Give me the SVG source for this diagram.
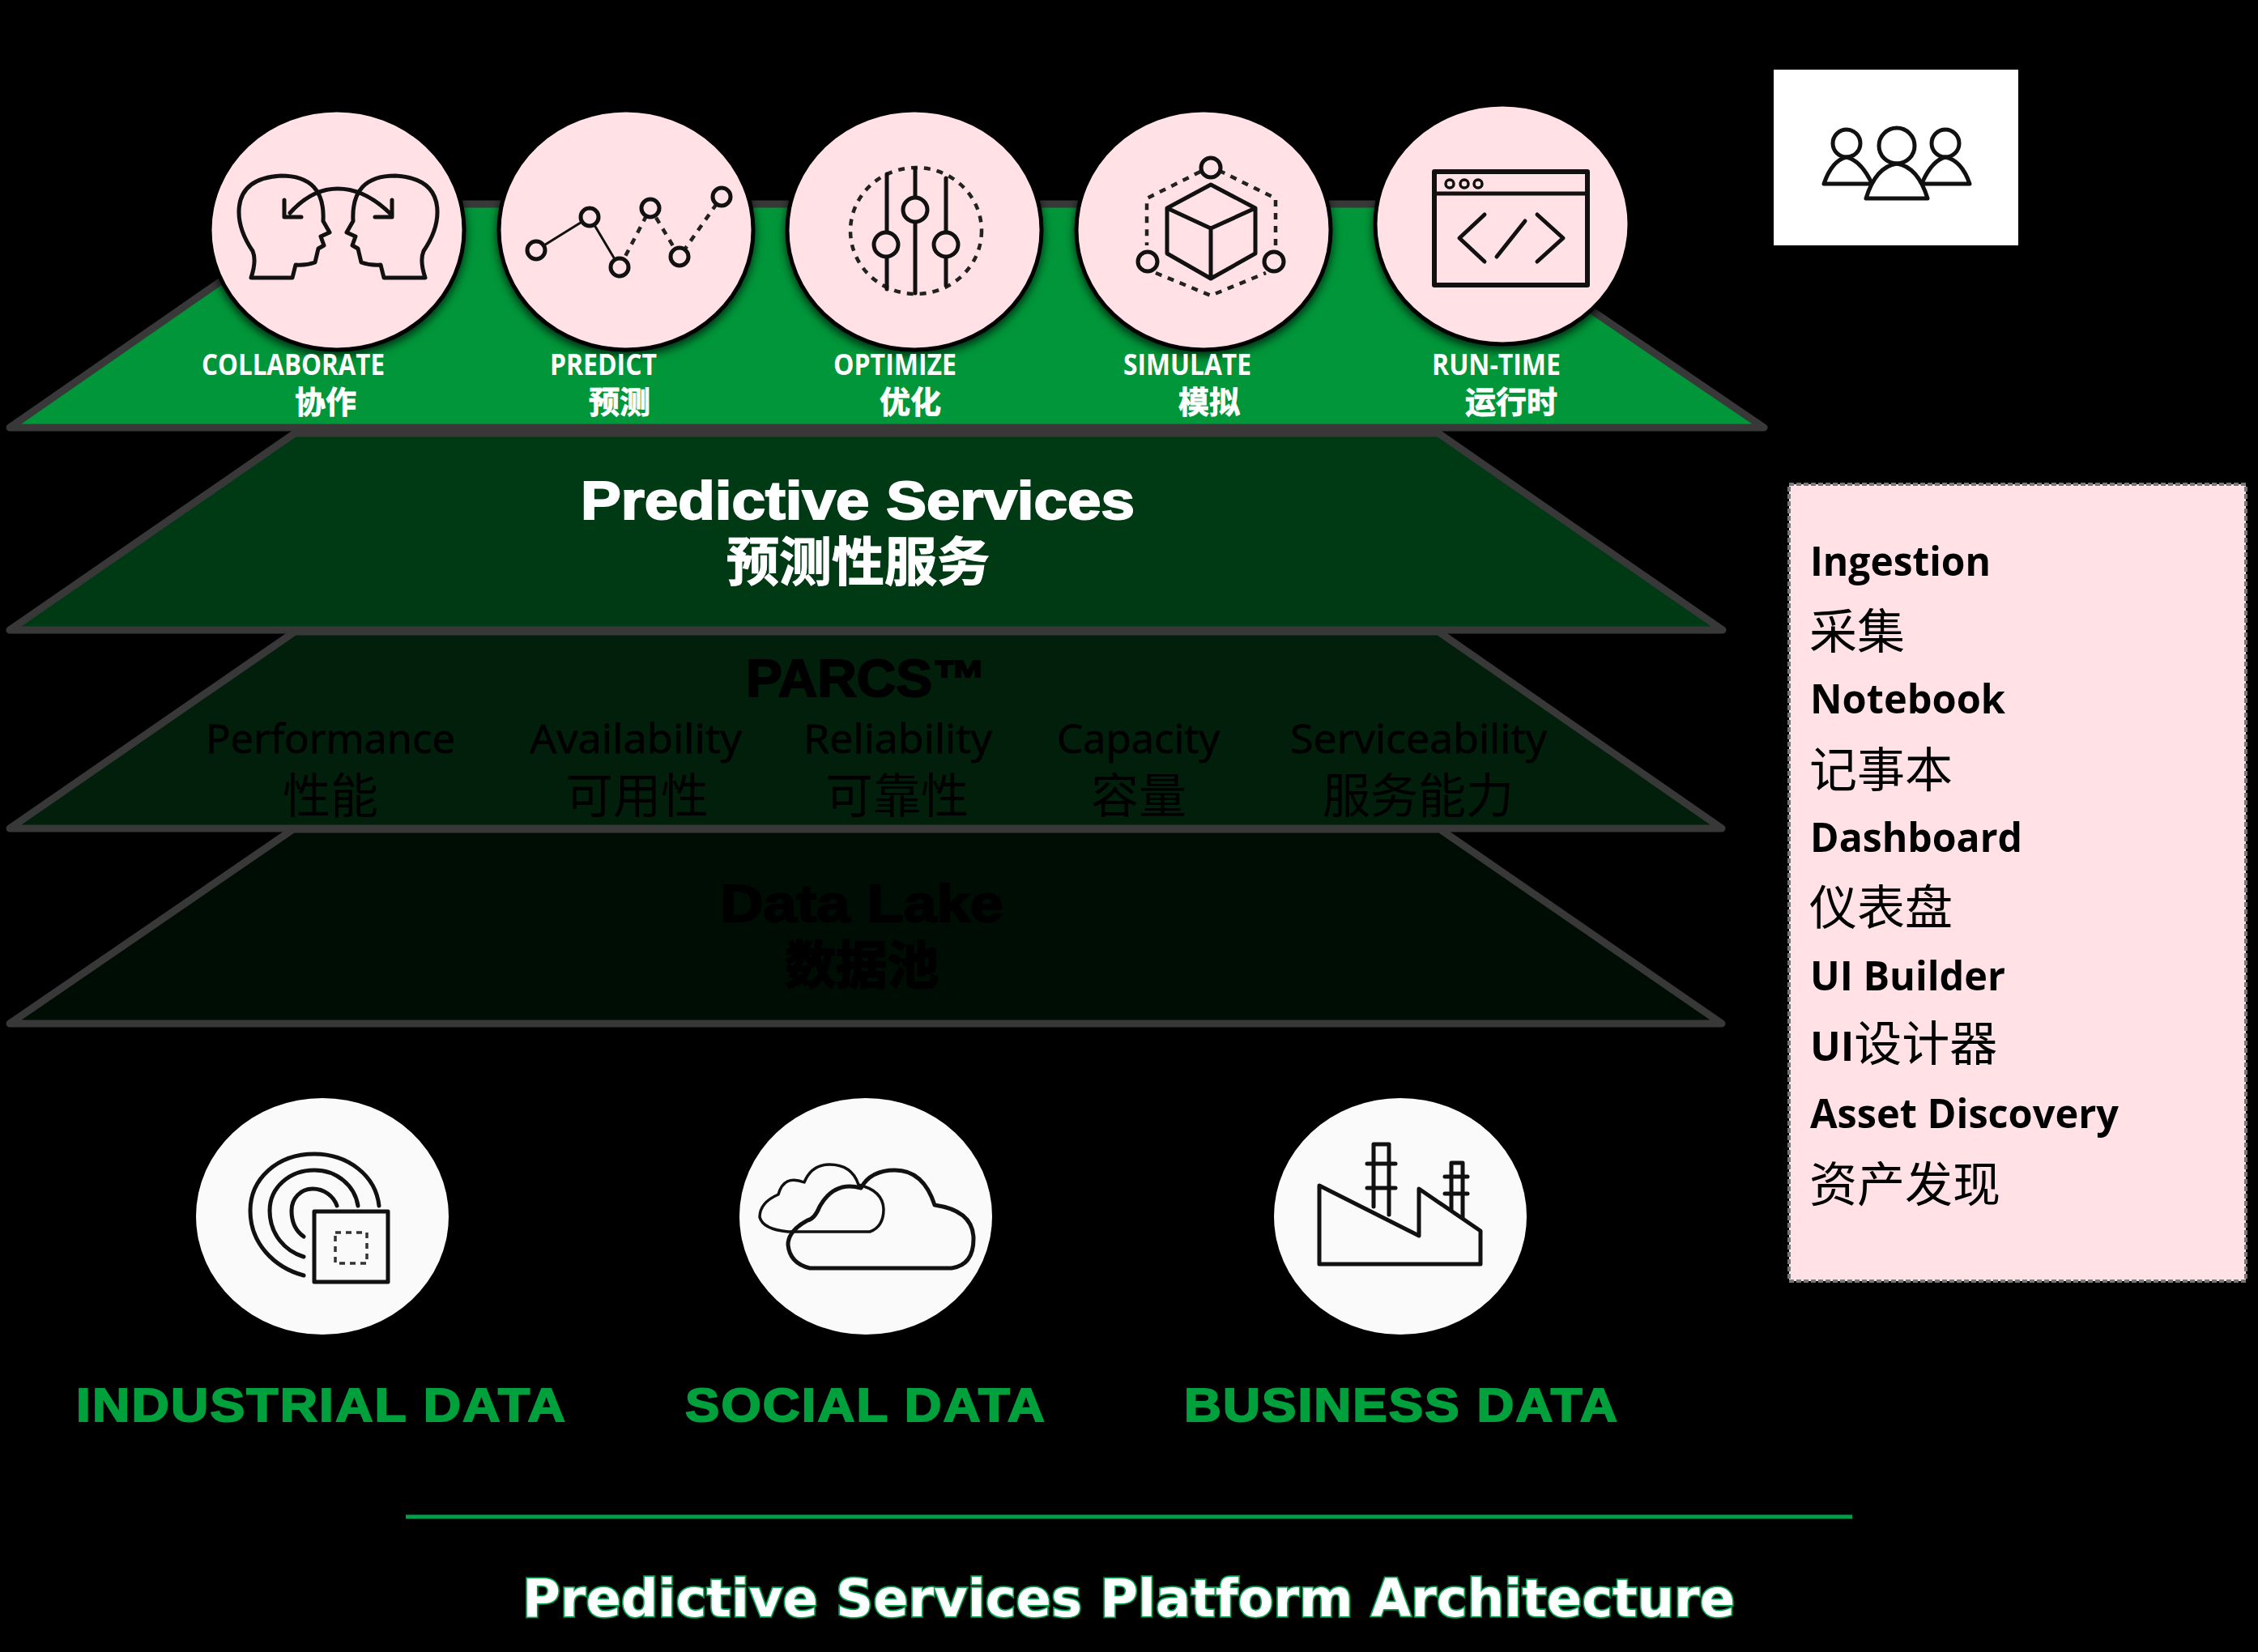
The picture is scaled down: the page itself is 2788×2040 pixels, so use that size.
<svg xmlns="http://www.w3.org/2000/svg" width="2788" height="2040" viewBox="0 0 2788 2040">
<style>
text{font-family:"Liberation Sans","Noto Sans CJK SC",sans-serif;font-weight:700}
.cjk{font-family:"Noto Sans CJK SC",sans-serif}
.trap{stroke:#383838;stroke-width:9;stroke-linejoin:round}
.badge{fill:#ffe1e6;stroke:#000;stroke-width:5;filter:url(#sh)}
.data{fill:#fafafa}
.ic{fill:none;stroke:#111;stroke-width:5;stroke-linejoin:round;stroke-linecap:round}
.ict{fill:none;stroke:#111;stroke-width:3.5;stroke-linejoin:round}
.dash{fill:none;stroke:#222;stroke-width:4.5;stroke-dasharray:8 8}
.lab{fill:#fff;font-size:35px;font-family:"Open Sans","Liberation Sans",sans-serif;font-weight:700}
.lc{fill:#fff;stroke:#fff;stroke-width:.8;font-size:38px;font-family:"Noto Sans CJK SC",sans-serif;font-weight:700}
.dk{fill:#000;stroke:#000;stroke-width:2}
.p{font-size:50px;font-family:"Open Sans","Liberation Sans",sans-serif;font-weight:400;fill:#000;stroke:#000;stroke-width:.8}
.pc{font-size:59px;font-family:"Noto Sans CJK SC",sans-serif;font-weight:400;fill:#000}
.gl{fill:#00a03c;stroke:#00a03c;stroke-width:2;font-size:58px;letter-spacing:2px}
.s{font-family:"Open Sans","Liberation Sans",sans-serif;font-size:50px;font-weight:700;fill:#000}
.sc{font-family:"Noto Sans CJK SC",sans-serif;font-size:59px;font-weight:400;fill:#000}
</style>
<defs>
<filter id="sh" x="-20%" y="-20%" width="140%" height="140%"><feDropShadow dx="0" dy="5" stdDeviation="6" flood-color="#000" flood-opacity=".7"/></filter>
</defs>
<rect width="2788" height="2040" fill="#000"/>

<g id="layer-data-lake">
<polygon class="trap" points="362,1024 1778,1024 2126,1264 12,1264" fill="#000d04"/>
<text class="dk" x="889" y="1138" font-size="64" textLength="350" lengthAdjust="spacingAndGlyphs">Data Lake</text>
<text class="cjk dk" x="969" y="1214" font-size="63" textLength="190" lengthAdjust="spacingAndGlyphs">数据池</text>
</g>
<g id="layer-parcs">
<polygon class="trap" points="364,780 1776,780 2126,1023 12,1023" fill="#011f0b"/>
<text class="dk" x="921" y="860" font-size="64" textLength="297" lengthAdjust="spacingAndGlyphs">PARCS™</text>
<text class="p" x="254" y="930" textLength="308" lengthAdjust="spacingAndGlyphs">Performance</text>
<text class="p" x="654" y="930" textLength="262" lengthAdjust="spacingAndGlyphs">Availability</text>
<text class="p" x="992" y="930" textLength="233" lengthAdjust="spacingAndGlyphs">Reliability</text>
<text class="p" x="1305" y="930" textLength="201" lengthAdjust="spacingAndGlyphs">Capacity</text>
<text class="p" x="1593" y="930" textLength="317" lengthAdjust="spacingAndGlyphs">Serviceability</text>
<text class="pc" x="349" y="1004">性能</text>
<text class="pc" x="698" y="1004">可用性</text>
<text class="pc" x="1019" y="1004">可靠性</text>
<text class="pc" x="1347" y="1004">容量</text>
<text class="pc" x="1633" y="1004">服务能力</text>
</g>
<g id="layer-predictive-services">
<polygon class="trap" points="364,535 1776,535 2127,778 12,778" fill="#003a14"/>
<text x="717" y="641" font-size="66" fill="#fff" stroke="#fff" stroke-width="2" textLength="684" lengthAdjust="spacingAndGlyphs">Predictive Services</text>
<text class="cjk" x="897" y="717" font-size="65" fill="#fff" stroke="#fff" stroke-width="1" font-weight="700">预测性服务</text>
</g>
<g id="layer-top">
<polygon class="trap" points="410,252 1772,252 2178,528 12,528" fill="#009639"/>
</g>

<g id="collaborate">
<ellipse class="badge" cx="416" cy="284" rx="157" ry="148"/>
<path class="ic" d="M310 343H361L365 327Q378 328 389 324L393 307 400 303 396 292 407 287 399 273Q402 217 347 217 295 220 295 262 295 285 312 310 317 322 310 343Z"/>
<path class="ic" d="M525 343H474L470 327Q457 328 446 324L442 307 435 303 439 292 428 287 436 273Q433 217 488 217 540 220 540 262 540 285 523 310 518 322 525 343Z"/>
<path class="ic" d="M358 263Q385 233 417 233 450 233 481 263M351 247V268H372M484 247V268H463"/>
<text class="lab" x="249" y="463" textLength="226" lengthAdjust="spacingAndGlyphs">COLLABORATE</text>
<text class="lc" x="364" y="510">协作</text>
</g>
<g id="predict">
<ellipse class="badge" cx="773" cy="284" rx="157" ry="148"/>
<path class="ic" style="stroke-width:3" d="M662 309L728 268 765 330"/>
<path class="dash" d="M765 330L803 257 839 317 891 243"/>
<g class="ic" style="fill:#ffe1e6"><circle cx="662" cy="309" r="11"/><circle cx="728" cy="268" r="11"/><circle cx="765" cy="330" r="11"/><circle cx="803" cy="257" r="11"/><circle cx="839" cy="317" r="11"/><circle cx="891" cy="243" r="11"/></g>
<text class="lab" x="679" y="463" textLength="132" lengthAdjust="spacingAndGlyphs">PREDICT</text>
<text class="lc" x="727" y="510">预测</text>
</g>
<g id="optimize">
<ellipse class="badge" cx="1129" cy="284" rx="157" ry="148"/>
<ellipse class="dash" cx="1131" cy="285" rx="81" ry="78"/>
<path class="ic" d="M1095 215V357M1130 208V362M1168 220V352"/>
<g class="ic" style="fill:#ffe1e6"><ellipse cx="1094" cy="302" rx="15" ry="15"/><ellipse cx="1130" cy="259" rx="15" ry="15"/><ellipse cx="1168" cy="302" rx="15" ry="15"/></g>
<text class="lab" x="1029" y="463" textLength="152" lengthAdjust="spacingAndGlyphs">OPTIMIZE</text>
<text class="lc" x="1086" y="510">优化</text>
</g>
<g id="simulate">
<ellipse class="badge" cx="1486" cy="284" rx="157" ry="148"/>
<path class="dash" d="M1482 212L1416 245V303M1427 337L1495 365 1563 337M1575 303V245L1508 212"/>
<path class="ic" d="M1495 228L1550 257V313L1495 344 1441 313V257ZM1441 257L1495 282 1550 257M1495 282V344"/>
<g class="ic" style="fill:#ffe1e6"><circle cx="1495" cy="207" r="12"/><circle cx="1417" cy="323" r="12"/><circle cx="1573" cy="323" r="12"/></g>
<text class="lab" x="1387" y="463" textLength="158" lengthAdjust="spacingAndGlyphs">SIMULATE</text>
<text class="lc" x="1455" y="510">模拟</text>
</g>
<g id="run-time">
<ellipse class="badge" cx="1855" cy="277" rx="157" ry="148"/>
<rect class="ic" x="1771" y="212" width="189" height="140" style="stroke-width:6"/>
<path class="ic" d="M1771 239H1960"/>
<g class="ict"><circle cx="1790" cy="227" r="5"/><circle cx="1808" cy="227" r="5"/><circle cx="1825" cy="227" r="5"/></g>
<path class="ic" d="M1833 265L1802 294 1833 323M1898 265L1930 294 1898 323M1883 273L1848 317"/>
<text class="lab" x="1768" y="463" textLength="159" lengthAdjust="spacingAndGlyphs">RUN-TIME</text>
<text class="lc" x="1809" y="510">运行时</text>
</g>

<g id="users">
<rect x="2190" y="86" width="302" height="217" fill="#fff"/>
<g class="ic" style="stroke-width:5"><circle cx="2280" cy="177" r="17"/><circle cx="2342" cy="180" r="22"/><circle cx="2402" cy="177" r="17"/>
<path d="M2310 227H2252Q2262 198 2280 194 2297 198 2310 224"/>
<path d="M2376 227H2432Q2422 198 2402 194 2386 198 2374 224"/>
<path d="M2304 245H2380Q2368 206 2342 202 2316 206 2304 245Z"/></g>
</g>

<g id="features">
<rect x="2209" y="598" width="564" height="984" fill="#ffe1e6" stroke="#777" stroke-width="4" stroke-dasharray="6 3"/>
<text class="s" x="2235" y="711" textLength="223" lengthAdjust="spacingAndGlyphs">Ingestion</text>
<text class="sc" x="2234" y="801">采集</text>
<text class="s" x="2235" y="881" textLength="241" lengthAdjust="spacingAndGlyphs">Notebook</text>
<text class="sc" x="2234" y="972">记事本</text>
<text class="s" x="2235" y="1052" textLength="262" lengthAdjust="spacingAndGlyphs">Dashboard</text>
<text class="sc" x="2234" y="1142">仪表盘</text>
<text class="s" x="2235" y="1223" textLength="241" lengthAdjust="spacingAndGlyphs">UI Builder</text>
<text class="s" x="2235" y="1310">UI<tspan class="sc">设计器</tspan></text>
<text class="s" x="2235" y="1393" textLength="381" lengthAdjust="spacingAndGlyphs">Asset Discovery</text>
<text class="sc" x="2234" y="1484">资产发现</text>
</g>

<g id="industrial-data">
<ellipse class="data" cx="398" cy="1502" rx="156" ry="146"/>
<path class="ic" d="M468 1489C464 1452 430 1425 388 1425 342 1425 309 1456 309 1495 309 1535 338 1565 375 1575M442 1489C438 1464 416 1445 388 1445 358 1445 333 1466 333 1495 333 1524 352 1545 375 1552M416 1489C412 1477 400 1468 386 1468 371 1468 360 1480 360 1495 360 1509 365 1520 375 1527"/>
<rect class="ic" x="388" y="1496" width="91" height="87"/>
<rect x="414" y="1522" width="39" height="38" fill="none" stroke="#333" stroke-width="3.5" stroke-dasharray="7 6"/>
<text class="gl" x="94" y="1755" textLength="606" lengthAdjust="spacingAndGlyphs">INDUSTRIAL DATA</text>
</g>
<g id="social-data">
<ellipse class="data" cx="1069" cy="1502" rx="156" ry="146"/>
<path class="ict" d="M973 1521H1074Q1091 1515 1091 1493 1090 1470 1060 1463 1052 1438 1024 1438 1002 1438 993 1460 968 1450 961 1475 938 1485 938 1503 942 1518 973 1521Z"/>
<path class="ic" d="M1000 1566H1175Q1202 1562 1202 1530 1202 1495 1154 1488 1140 1445 1105 1445 1075 1445 1063 1467 1030 1458 1012 1490 1006 1505 997 1507 973 1520 973 1537 975 1560 1000 1566Z"/>
<text class="gl" x="846" y="1755" textLength="446" lengthAdjust="spacingAndGlyphs">SOCIAL DATA</text>
</g>
<g id="business-data">
<ellipse class="data" cx="1729" cy="1502" rx="156" ry="146"/>
<path class="ic" d="M1696 1490V1413H1715V1500M1688 1437H1723M1688 1467H1723M1792 1506V1436H1806V1510M1784 1453H1812M1784 1474H1812"/>
<path class="ic" style="fill:#fafafa" d="M1629 1464L1752 1526V1468L1828 1520V1561H1629Z"/>
<text class="gl" x="1462" y="1755" textLength="537" lengthAdjust="spacingAndGlyphs">BUSINESS DATA</text>
</g>

<g id="connectors">
<line x1="501" y1="1873" x2="2287" y2="1873" stroke="#00a04a" stroke-width="5"/>
</g>
<g id="caption">
<text x="645" y="1996" font-size="64" textLength="1497" lengthAdjust="spacingAndGlyphs" fill="#fff" stroke="#00a04a" stroke-width="3.5" paint-order="stroke" style="font-family:'DejaVu Sans',sans-serif">Predictive Services Platform Architecture</text>
</g>
</svg>
